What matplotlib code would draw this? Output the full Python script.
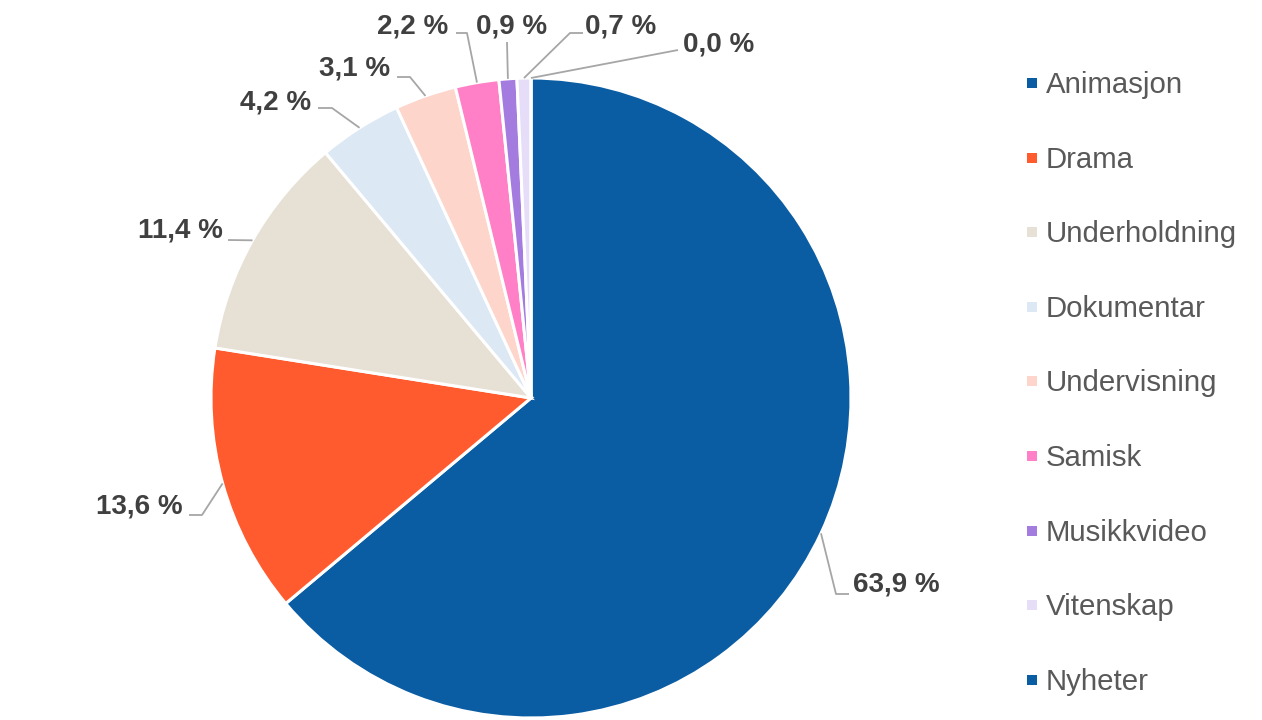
import numpy as np
import matplotlib
matplotlib.use('Agg')
import matplotlib.pyplot as plt

plt.rcParams['font.family'] = ['Liberation Sans', 'DejaVu Sans']

categories = ['Animasjon', 'Drama', 'Underholdning', 'Dokumentar', 'Undervisning',
              'Samisk', 'Musikkvideo', 'Vitenskap', 'Nyheter']
shares = [63.9, 13.6, 11.4, 4.2, 3.1, 2.2, 0.9, 0.7, 0.0]
colors = ['#0A5CA3', '#FF5B2E', '#E6E0D5', '#DCE8F4', '#FDD5CB',
          '#FF80C6', '#A47BDF', '#E6DDF8', '#0A5CA3']

W, H = 1262, 720
cx, cy, R = 531, 398, 320   # pie centre/radius in pixel (image) coords

# label layout in image pixels: (elbow, line end, text x, text y, ha)
label_layout = [
    ((836, 594), (849, 594), 853, 585, 'left'),
    ((202, 515), (189, 515), 183, 506, 'right'),
    (None, (228, 240), 223, 231, 'right'),
    ((332, 108), (318, 108), 311, 103, 'right'),
    ((410, 77), (397, 77), 390, 69, 'right'),
    ((467, 33), (456, 33), 448, 26, 'right'),
    (None, (507, 42), 512, 26, 'center'),
    ((570, 33), (583, 33), 585, 26, 'left'),
    (None, (678, 50), 683, 45, 'left'),
]


def Y(y):
    return H - y


fig = plt.figure(figsize=(W / 100, H / 100), dpi=100)
ax = fig.add_axes([0, 0, 1, 1])

ax.pie(shares, colors=colors, startangle=90, counterclock=False,
       center=(cx, Y(cy)), radius=R,
       wedgeprops=dict(edgecolor='white', linewidth=2.2))
ax.set_xlim(0, W)
ax.set_ylim(0, H)
ax.axis('off')

# data labels with leader lines
cum = np.cumsum([0] + shares[:-1])
for i, v in enumerate(shares):
    mid = (cum[i] + v / 2) / sum(shares)
    ang = np.deg2rad(90 - mid * 360)
    sx, sy = cx + R * np.cos(ang), cy - R * np.sin(ang)
    elbow, end, tx, ty, ha = label_layout[i]
    pts = [(sx, sy)] + ([elbow] if elbow else []) + [end]
    ax.plot([p[0] for p in pts], [Y(p[1]) for p in pts], color='#A6A6A6', lw=1.3,
            solid_capstyle='butt')
    txt = f'{v:.1f} %'.replace('.', ',')
    ax.text(tx, Y(ty), txt, ha=ha, va='center', fontsize=20, fontweight='bold',
            color='#404040')

# legend
for i, name in enumerate(categories):
    ly = 83 + i * 74.6
    ax.scatter([1032], [Y(ly)], marker='s', s=55, color=colors[i], linewidths=0)
    ax.text(1046, Y(ly + 2), name, ha='left', va='center', fontsize=21.2, color='#595959')

fig.savefig('out.png', dpi=100)
